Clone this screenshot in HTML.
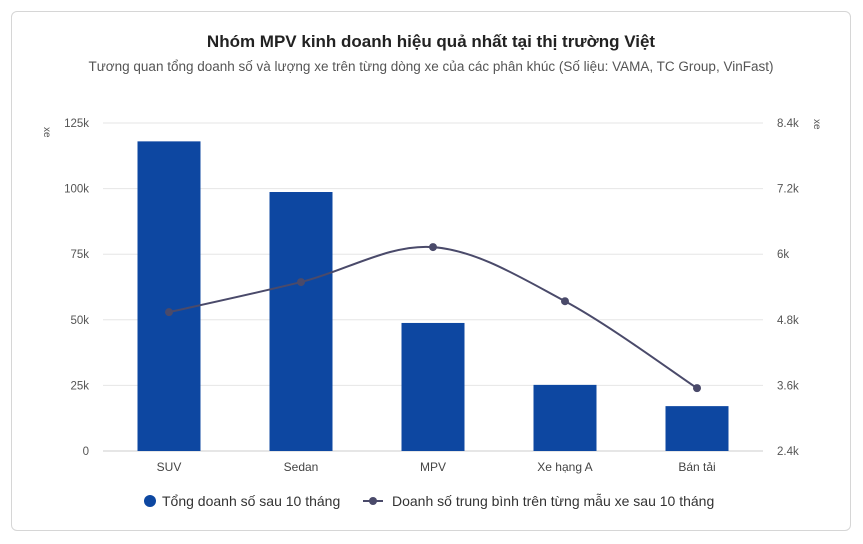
<!DOCTYPE html>
<html><head><meta charset="utf-8"><style>
body{margin:0;background:#fff;font-family:"Liberation Sans","Noto Sans CJK SC",sans-serif;}
#card{position:absolute;left:11px;top:11px;width:838px;height:518px;border:1px solid #d6d6d6;border-radius:6px;background:#fff;}
</style></head><body>
<div id="card"></div>
<svg id="chart" width="863" height="544" style="position:absolute;left:0;top:0">
<text x="431" y="47" text-anchor="middle" font-size="17" font-weight="bold" fill="#222">Nhóm MPV kinh doanh hiệu quả nhất tại thị trường Việt</text>
<text x="431" y="71" text-anchor="middle" font-size="13.5" fill="#555">Tương quan tổng doanh số và lượng xe trên từng dòng xe của các phân khúc (Số liệu: VAMA, TC Group, VinFast)</text>
<text transform="translate(44,127) rotate(90)" font-size="10" fill="#555">xe</text>
<text transform="translate(814,119) rotate(90)" font-size="10" fill="#555">xe</text>
<g id="grid"></g><g id="bars"></g><g id="line"></g><g id="axes"></g>
<g>
<g><circle cx="150" cy="501" r="6" fill="#0d47a1"/><text x="162" y="506" font-size="14" fill="#333">Tổng doanh số sau 10 tháng</text></g>
<g><line x1="363" y1="501" x2="383" y2="501" stroke="#4a4a6a" stroke-width="2"/><circle cx="373" cy="501" r="4" fill="#4a4a6a"/><text x="392" y="506" font-size="14" fill="#333">Doanh số trung bình trên từng mẫu xe sau 10 tháng</text></g>
</g>
</svg>
<script>
const categories=["SUV","Sedan","MPV","Xe hạng A","Bán tải"];
const totalSales=[118000,98700,48800,25200,17100];
const avgSales=[4940,5490,6130,5140,3550];
const leftTicks=[0,25000,50000,75000,100000,125000];
const leftTickLabels=["0","25k","50k","75k","100k","125k"];
const rightTicks=[2400,3600,4800,6000,7200,8400];
const rightTickLabels=["2.4k","3.6k","4.8k","6k","7.2k","8.4k"];
const NS="http://www.w3.org/2000/svg";
const x0=103,x1=763,yB=451,yT=123;
const band=(x1-x0)/categories.length;
const xc=i=>x0+band*(i+0.5);
const yL=v=>yB-(v/125000)*(yB-yT);
const yR=v=>yB-((v-2400)/6000)*(yB-yT);
function mk(t,a,p){const e=document.createElementNS(NS,t);for(const k in a)e.setAttribute(k,a[k]);p.appendChild(e);return e;}
const grid=document.getElementById('grid'),axes=document.getElementById('axes');
leftTicks.forEach((v,i)=>{
 const l=mk('line',{x1:x0,x2:x1,y1:yL(v),y2:yL(v),stroke:i==0?'#ccc':'#e6e6e6'},grid);
 
 
 const t=mk('text',{x:89,y:yL(v)+4,'text-anchor':'end','font-size':11.5,fill:'#555'},axes);
 t.textContent=leftTickLabels[i];
 
 
});
rightTicks.forEach((v,i)=>{
 const t=mk('text',{x:777,y:yR(v)+4,'font-size':11.5,fill:'#555'},axes);
 t.textContent=rightTickLabels[i];
 
 
});
const bars=document.getElementById('bars');
categories.forEach((c,i)=>{
 const w=63;
 const r=mk('rect',{x:xc(i)-w/2,y:yL(totalSales[i]),width:w,height:yB-yL(totalSales[i]),fill:'#0d47a1'},bars);
 
 
 const t=mk('text',{x:xc(i),y:471,'text-anchor':'middle','font-size':12,fill:'#444'},axes);
 t.textContent=c;
 
 
});
const pts=avgSales.map((v,i)=>[xc(i),yR(v)]);
let d='M'+pts[0][0]+','+pts[0][1];
for(let i=0;i<pts.length-1;i++){
 const p0=pts[Math.max(0,i-1)],p1=pts[i],p2=pts[i+1],p3=pts[Math.min(pts.length-1,i+2)];
 const k=0.5/3*1.0;
 const c1=[p1[0]+(p2[0]-p0[0])*k,p1[1]+(p2[1]-p0[1])*k];
 const c2=[p2[0]-(p3[0]-p1[0])*k,p2[1]-(p3[1]-p1[1])*k];
 d+=' C'+c1+' '+c2+' '+p2;
}
const line=document.getElementById('line');
const pth=mk('path',{d:d,fill:'none',stroke:'#4a4a6a','stroke-width':2},line);


pts.forEach(p=>{
 const c=mk('circle',{cx:p[0],cy:p[1],r:4,fill:'#4a4a6a'},line);
 
 
});
</script>
</body></html>
